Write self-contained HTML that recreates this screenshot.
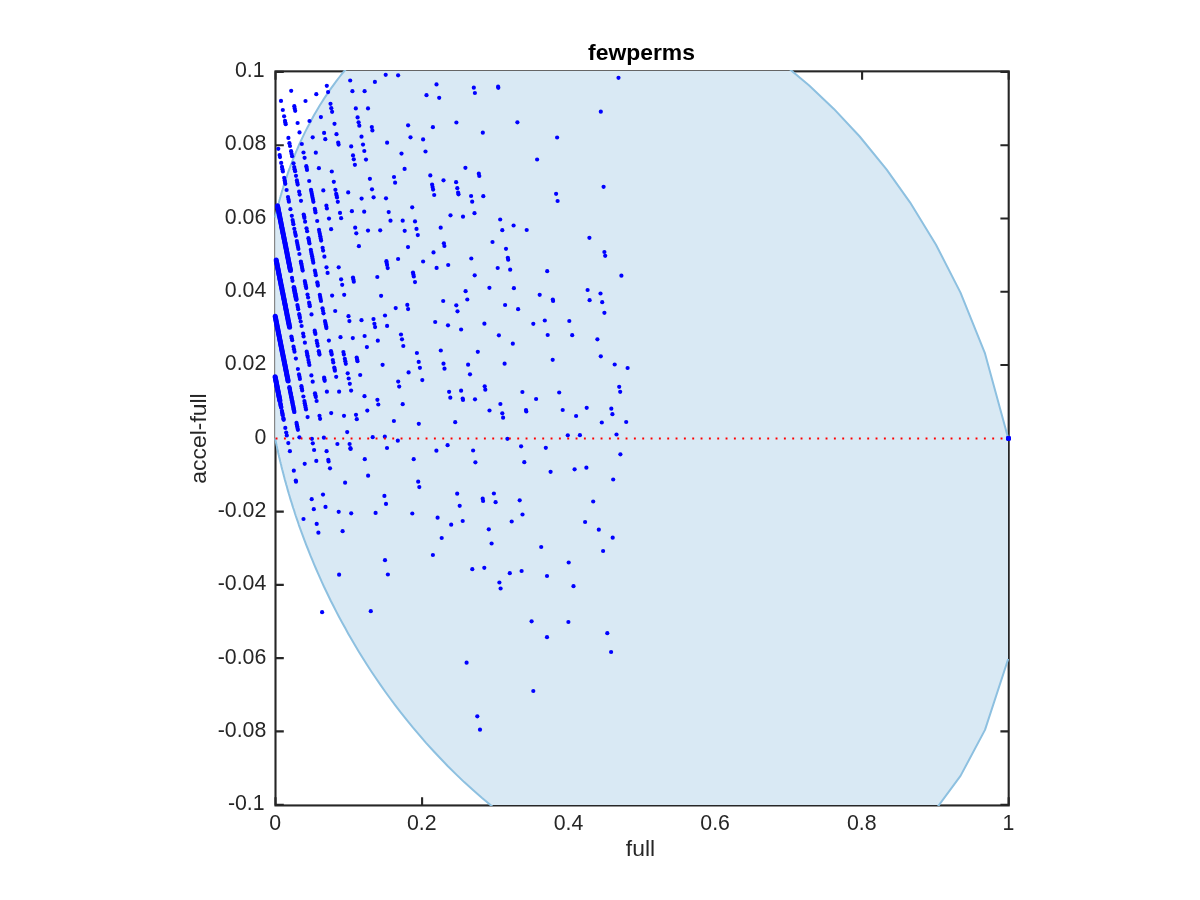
<!DOCTYPE html>
<html><head><meta charset="utf-8"><title>fewperms</title>
<style>
html,body{margin:0;padding:0;background:#fff;}
svg{display:block;font-family:"Liberation Sans",sans-serif;}
</style></head><body>
<svg width="1200" height="900" viewBox="0 0 1200 900">
<rect width="1200" height="900" fill="#fff"/>
<defs><clipPath id="c"><rect x="275" y="71" width="733" height="734"/></clipPath>
<clipPath id="c3"><rect x="274" y="70" width="735.5" height="736"/></clipPath>
<clipPath id="c2"><rect x="272" y="68" width="740" height="741"/></clipPath></defs>
<g fill="none" stroke="#262626" stroke-width="2.1" stroke-linecap="butt">
<rect x="275.5" y="71.35" width="733.2" height="734.1"/>
<path d="M275.5 805.45v-8.3M275.5 71.35v8.3"/><path d="M422.1 805.45v-8.3M422.1 71.35v8.3"/><path d="M568.8 805.45v-8.3M568.8 71.35v8.3"/><path d="M715.4 805.45v-8.3M715.4 71.35v8.3"/><path d="M862.1 805.45v-8.3M862.1 71.35v8.3"/><path d="M1008.7 805.45v-8.3M1008.7 71.35v8.3"/><path d="M275.5 804.7h8.3M1008.7 804.7h-8.3"/><path d="M275.5 731.4h8.3M1008.7 731.4h-8.3"/><path d="M275.5 658.1h8.3M1008.7 658.1h-8.3"/><path d="M275.5 584.9h8.3M1008.7 584.9h-8.3"/><path d="M275.5 511.6h8.3M1008.7 511.6h-8.3"/><path d="M275.5 438.3h8.3M1008.7 438.3h-8.3"/><path d="M275.5 365.0h8.3M1008.7 365.0h-8.3"/><path d="M275.5 291.7h8.3M1008.7 291.7h-8.3"/><path d="M275.5 218.5h8.3M1008.7 218.5h-8.3"/><path d="M275.5 145.2h8.3M1008.7 145.2h-8.3"/><path d="M275.5 71.9h8.3M1008.7 71.9h-8.3"/>
</g>
<g clip-path="url(#c)">
<polygon points="275.1,217.6 275.9,214.5 275.9,214.3 275.9,214.2 276.0,214.0 276.0,213.9 276.1,213.7 276.1,213.5 276.1,213.3 276.2,213.1 276.2,212.9 276.3,212.7 276.3,212.5 276.4,212.3 276.5,212.0 276.5,211.8 276.6,211.5 276.6,211.2 276.7,210.9 276.8,210.6 276.9,210.3 276.9,210.0 277.0,209.7 277.1,209.3 277.2,209.0 277.3,208.6 277.4,208.2 277.5,207.8 277.6,207.3 277.7,206.9 277.9,206.4 278.0,205.9 278.1,205.4 278.2,204.9 278.4,204.3 278.5,203.8 278.7,203.2 278.9,202.5 279.0,201.9 279.2,201.2 279.4,200.5 279.6,199.8 279.8,199.1 280.0,198.3 280.2,197.5 280.5,196.6 280.7,195.8 281.0,194.9 281.3,193.9 281.5,193.0 281.8,191.9 282.1,190.9 282.5,189.8 282.8,188.7 283.2,187.5 283.5,186.3 283.9,185.1 284.3,183.8 284.7,182.5 285.2,181.1 285.7,179.7 286.1,178.3 286.7,176.8 287.2,175.2 287.7,173.6 288.3,171.9 288.9,170.2 289.6,168.5 290.2,166.7 290.9,164.8 291.7,162.9 292.4,160.9 293.2,158.9 294.1,156.8 294.9,154.6 295.8,152.4 296.8,150.2 297.8,147.8 298.8,145.5 299.9,143.0 301.1,140.5 302.3,137.9 303.5,135.3 304.8,132.6 306.2,129.9 307.7,127.0 309.2,124.2 310.7,121.2 312.4,118.2 314.1,115.1 315.9,112.0 317.8,108.8 319.7,105.6 321.8,102.2 323.9,98.9 326.2,95.4 328.6,92.0 331.0,88.4 333.6,84.8 336.3,81.2 339.1,77.5 342.1,73.7 345.2,70.0 348.4,66.1 351.8,62.3 355.3,58.4 359.0,54.5 362.9,50.5 367.0,46.6 371.2,42.6 375.6,38.6 380.3,34.6 385.1,30.7 390.2,26.7 395.5,22.8 401.1,18.9 406.9,15.1 413.0,11.3 419.4,7.6 426.0,4.0 433.0,0.4 440.3,-3.0 447.9,-6.2 455.9,-9.3 464.2,-12.3 473.0,-15.0 482.1,-17.5 491.7,-19.7 501.7,-21.6 512.1,-23.2 523.1,-24.5 534.5,-25.3 546.5,-25.6 559.0,-25.5 572.1,-24.7 585.8,-23.3 600.2,-21.2 615.2,-18.3 630.9,-14.5 647.3,-9.7 664.5,-3.8 682.5,3.5 701.3,12.1 721.0,22.4 741.6,34.6 763.1,49.0 785.7,65.8 809.2,85.6 833.9,108.9 859.7,136.5 886.7,169.6 910.0,202.3 936.0,244.7 960.5,292.6 985.0,353.4 1008.2,438.3 1008.2,659.0 985.0,729.9 960.5,775.9 936.0,809.1 910.0,835.9 886.7,854.6 859.7,871.4 833.9,883.4 809.2,891.9 785.7,897.5 763.1,900.8 741.6,902.1 721.0,901.9 701.3,900.4 682.5,897.7 664.5,894.1 647.3,889.7 630.9,884.6 615.2,879.0 600.2,872.9 585.8,866.3 572.1,859.5 559.0,852.3 546.5,844.9 534.5,837.4 523.1,829.7 512.1,821.8 501.7,814.0 491.7,806.0 482.1,798.0 473.0,790.0 464.2,782.1 455.9,774.1 447.9,766.2 440.3,758.3 433.0,750.5 426.0,742.8 419.4,735.2 413.0,727.7 406.9,720.2 401.1,712.9 395.5,705.6 390.2,698.5 385.1,691.5 380.3,684.6 375.6,677.8 371.2,671.2 367.0,664.7 362.9,658.3 359.0,652.0 355.3,645.8 351.8,639.8 348.4,633.9 345.2,628.1 342.1,622.5 339.1,617.0 336.3,611.6 333.6,606.3 331.0,601.2 328.6,596.2 326.2,591.2 323.9,586.5 321.8,581.8 319.7,577.2 317.8,572.8 315.9,568.5 314.1,564.3 312.4,560.2 310.7,556.2 309.2,552.3 307.7,548.5 306.2,544.8 304.8,541.2 303.5,537.7 302.3,534.3 301.1,531.1 299.9,527.9 298.8,524.8 297.8,521.7 296.8,518.8 295.8,516.0 294.9,513.2 294.1,510.5 293.2,508.0 292.4,505.4 291.7,503.0 290.9,500.6 290.2,498.4 289.6,496.2 288.9,494.0 288.3,491.9 287.7,489.9 287.2,488.0 286.7,486.1 286.1,484.3 285.7,482.6 285.2,480.9 284.7,479.2 284.3,477.6 283.9,476.1 283.5,474.6 283.2,473.2 282.8,471.9 282.5,470.5 282.1,469.3 281.8,468.0 281.5,466.8 281.3,465.7 281.0,464.6 280.7,463.5 280.5,462.5 280.2,461.5 280.0,460.6 279.8,459.7 279.6,458.8 279.4,458.0 279.2,457.2 279.0,456.4 278.9,455.6 278.7,454.9 278.5,454.2 278.4,453.6 278.2,452.9 278.1,452.3 278.0,451.7 277.9,451.2 277.7,450.6 277.6,450.1 277.5,449.6 277.4,449.1 277.3,448.7 277.2,448.2 277.1,447.8 277.0,447.4 276.9,447.0 276.9,446.6 276.8,446.3 276.7,446.0 276.6,445.6 276.6,445.3 276.5,445.0 276.5,444.7 276.4,444.4 276.3,444.2 276.3,443.9 276.2,443.7 276.2,443.4 276.1,443.2 276.1,443.0 276.1,442.8 276.0,442.6 276.0,442.4 275.9,442.2 275.9,442.1 275.9,441.9 275.1,438.3" fill="#d9e9f4"/>
</g>
<g clip-path="url(#c3)">
<polyline points="275.1,217.6 275.9,214.5 275.9,214.3 275.9,214.2 276.0,214.0 276.0,213.9 276.1,213.7 276.1,213.5 276.1,213.3 276.2,213.1 276.2,212.9 276.3,212.7 276.3,212.5 276.4,212.3 276.5,212.0 276.5,211.8 276.6,211.5 276.6,211.2 276.7,210.9 276.8,210.6 276.9,210.3 276.9,210.0 277.0,209.7 277.1,209.3 277.2,209.0 277.3,208.6 277.4,208.2 277.5,207.8 277.6,207.3 277.7,206.9 277.9,206.4 278.0,205.9 278.1,205.4 278.2,204.9 278.4,204.3 278.5,203.8 278.7,203.2 278.9,202.5 279.0,201.9 279.2,201.2 279.4,200.5 279.6,199.8 279.8,199.1 280.0,198.3 280.2,197.5 280.5,196.6 280.7,195.8 281.0,194.9 281.3,193.9 281.5,193.0 281.8,191.9 282.1,190.9 282.5,189.8 282.8,188.7 283.2,187.5 283.5,186.3 283.9,185.1 284.3,183.8 284.7,182.5 285.2,181.1 285.7,179.7 286.1,178.3 286.7,176.8 287.2,175.2 287.7,173.6 288.3,171.9 288.9,170.2 289.6,168.5 290.2,166.7 290.9,164.8 291.7,162.9 292.4,160.9 293.2,158.9 294.1,156.8 294.9,154.6 295.8,152.4 296.8,150.2 297.8,147.8 298.8,145.5 299.9,143.0 301.1,140.5 302.3,137.9 303.5,135.3 304.8,132.6 306.2,129.9 307.7,127.0 309.2,124.2 310.7,121.2 312.4,118.2 314.1,115.1 315.9,112.0 317.8,108.8 319.7,105.6 321.8,102.2 323.9,98.9 326.2,95.4 328.6,92.0 331.0,88.4 333.6,84.8 336.3,81.2 339.1,77.5 342.1,73.7 345.2,70.0 348.4,66.1 351.8,62.3 355.3,58.4 359.0,54.5 362.9,50.5 367.0,46.6 371.2,42.6 375.6,38.6 380.3,34.6 385.1,30.7 390.2,26.7 395.5,22.8 401.1,18.9 406.9,15.1 413.0,11.3 419.4,7.6 426.0,4.0 433.0,0.4 440.3,-3.0 447.9,-6.2 455.9,-9.3 464.2,-12.3 473.0,-15.0 482.1,-17.5 491.7,-19.7 501.7,-21.6 512.1,-23.2 523.1,-24.5 534.5,-25.3 546.5,-25.6 559.0,-25.5 572.1,-24.7 585.8,-23.3 600.2,-21.2 615.2,-18.3 630.9,-14.5 647.3,-9.7 664.5,-3.8 682.5,3.5 701.3,12.1 721.0,22.4 741.6,34.6 763.1,49.0 785.7,65.8 809.2,85.6 833.9,108.9 859.7,136.5 886.7,169.6 910.0,202.3 936.0,244.7 960.5,292.6 985.0,353.4 1008.2,438.3" fill="none" stroke="#8dc0e0" stroke-width="2" stroke-linejoin="round"/>
<polyline points="275.1,438.3 275.9,441.9 275.9,442.1 275.9,442.2 276.0,442.4 276.0,442.6 276.1,442.8 276.1,443.0 276.1,443.2 276.2,443.4 276.2,443.7 276.3,443.9 276.3,444.2 276.4,444.4 276.5,444.7 276.5,445.0 276.6,445.3 276.6,445.6 276.7,446.0 276.8,446.3 276.9,446.6 276.9,447.0 277.0,447.4 277.1,447.8 277.2,448.2 277.3,448.7 277.4,449.1 277.5,449.6 277.6,450.1 277.7,450.6 277.9,451.2 278.0,451.7 278.1,452.3 278.2,452.9 278.4,453.6 278.5,454.2 278.7,454.9 278.9,455.6 279.0,456.4 279.2,457.2 279.4,458.0 279.6,458.8 279.8,459.7 280.0,460.6 280.2,461.5 280.5,462.5 280.7,463.5 281.0,464.6 281.3,465.7 281.5,466.8 281.8,468.0 282.1,469.3 282.5,470.5 282.8,471.9 283.2,473.2 283.5,474.6 283.9,476.1 284.3,477.6 284.7,479.2 285.2,480.9 285.7,482.6 286.1,484.3 286.7,486.1 287.2,488.0 287.7,489.9 288.3,491.9 288.9,494.0 289.6,496.2 290.2,498.4 290.9,500.6 291.7,503.0 292.4,505.4 293.2,508.0 294.1,510.5 294.9,513.2 295.8,516.0 296.8,518.8 297.8,521.7 298.8,524.8 299.9,527.9 301.1,531.1 302.3,534.3 303.5,537.7 304.8,541.2 306.2,544.8 307.7,548.5 309.2,552.3 310.7,556.2 312.4,560.2 314.1,564.3 315.9,568.5 317.8,572.8 319.7,577.2 321.8,581.8 323.9,586.5 326.2,591.2 328.6,596.2 331.0,601.2 333.6,606.3 336.3,611.6 339.1,617.0 342.1,622.5 345.2,628.1 348.4,633.9 351.8,639.8 355.3,645.8 359.0,652.0 362.9,658.3 367.0,664.7 371.2,671.2 375.6,677.8 380.3,684.6 385.1,691.5 390.2,698.5 395.5,705.6 401.1,712.9 406.9,720.2 413.0,727.7 419.4,735.2 426.0,742.8 433.0,750.5 440.3,758.3 447.9,766.2 455.9,774.1 464.2,782.1 473.0,790.0 482.1,798.0 491.7,806.0 501.7,814.0 512.1,821.8 523.1,829.7 534.5,837.4 546.5,844.9 559.0,852.3 572.1,859.5 585.8,866.3 600.2,872.9 615.2,879.0 630.9,884.6 647.3,889.7 664.5,894.1 682.5,897.7 701.3,900.4 721.0,901.9 741.6,902.1 763.1,900.8 785.7,897.5 809.2,891.9 833.9,883.4 859.7,871.4 886.7,854.6 910.0,835.9 936.0,809.1 960.5,775.9 985.0,729.9 1008.2,659.0" fill="none" stroke="#8dc0e0" stroke-width="2" stroke-linejoin="round"/>
</g>
<g clip-path="url(#c2)" fill="#0000ff">
<circle cx="618.5" cy="77.8" r="2.1"/><circle cx="473.8" cy="87.7" r="2.1"/><circle cx="474.9" cy="93.0" r="2.1"/><circle cx="498.1" cy="86.7" r="2.1"/><circle cx="498.3" cy="87.8" r="2.1"/><circle cx="600.8" cy="111.7" r="2.1"/><circle cx="456.4" cy="122.5" r="2.1"/><circle cx="517.4" cy="122.3" r="2.1"/><circle cx="482.8" cy="132.7" r="2.1"/><circle cx="557.1" cy="137.5" r="2.1"/><circle cx="537.1" cy="159.5" r="2.1"/><circle cx="465.4" cy="167.8" r="2.1"/><circle cx="478.8" cy="173.7" r="2.1"/><circle cx="479.3" cy="176.0" r="2.1"/><circle cx="443.5" cy="180.3" r="2.1"/><circle cx="456.1" cy="182.2" r="2.1"/><circle cx="457.3" cy="188.2" r="2.1"/><circle cx="458.1" cy="192.5" r="2.1"/><circle cx="458.5" cy="194.3" r="2.1"/><circle cx="471.1" cy="196.0" r="2.1"/><circle cx="483.3" cy="196.2" r="2.1"/><circle cx="472.2" cy="201.7" r="2.1"/><circle cx="556.1" cy="193.8" r="2.1"/><circle cx="557.6" cy="201.0" r="2.1"/><circle cx="603.6" cy="186.8" r="2.1"/><circle cx="474.5" cy="213.2" r="2.1"/><circle cx="450.5" cy="215.3" r="2.1"/><circle cx="463.0" cy="216.7" r="2.1"/><circle cx="500.2" cy="219.5" r="2.1"/><circle cx="513.6" cy="225.5" r="2.1"/><circle cx="440.7" cy="227.7" r="2.1"/><circle cx="502.3" cy="230.2" r="2.1"/><circle cx="526.7" cy="230.0" r="2.1"/><circle cx="589.4" cy="237.8" r="2.1"/><circle cx="492.5" cy="242.0" r="2.1"/><circle cx="443.9" cy="243.3" r="2.1"/><circle cx="444.4" cy="246.0" r="2.1"/><circle cx="506.0" cy="248.8" r="2.1"/><circle cx="604.4" cy="252.0" r="2.1"/><circle cx="605.2" cy="255.8" r="2.1"/><circle cx="471.3" cy="258.5" r="2.1"/><circle cx="507.8" cy="257.8" r="2.1"/><circle cx="508.2" cy="259.7" r="2.1"/><circle cx="448.2" cy="265.0" r="2.1"/><circle cx="497.7" cy="268.0" r="2.1"/><circle cx="510.2" cy="269.7" r="2.1"/><circle cx="547.2" cy="271.2" r="2.1"/><circle cx="474.7" cy="275.3" r="2.1"/><circle cx="621.4" cy="275.7" r="2.1"/><circle cx="489.4" cy="287.8" r="2.1"/><circle cx="513.9" cy="288.2" r="2.1"/><circle cx="465.6" cy="291.2" r="2.1"/><circle cx="587.6" cy="290.0" r="2.1"/><circle cx="600.5" cy="293.5" r="2.1"/><circle cx="539.7" cy="294.8" r="2.1"/><circle cx="467.3" cy="299.5" r="2.1"/><circle cx="552.8" cy="299.5" r="2.1"/><circle cx="553.1" cy="301.0" r="2.1"/><circle cx="443.2" cy="301.0" r="2.1"/><circle cx="589.6" cy="300.2" r="2.1"/><circle cx="602.2" cy="302.2" r="2.1"/><circle cx="456.3" cy="305.3" r="2.1"/><circle cx="505.1" cy="305.0" r="2.1"/><circle cx="518.1" cy="309.2" r="2.1"/><circle cx="457.5" cy="311.3" r="2.1"/><circle cx="604.4" cy="312.8" r="2.1"/><circle cx="544.8" cy="320.5" r="2.1"/><circle cx="569.3" cy="321.0" r="2.1"/><circle cx="448.0" cy="325.3" r="2.1"/><circle cx="484.4" cy="323.7" r="2.1"/><circle cx="533.3" cy="323.8" r="2.1"/><circle cx="461.1" cy="329.5" r="2.1"/><circle cx="498.9" cy="335.3" r="2.1"/><circle cx="547.7" cy="335.0" r="2.1"/><circle cx="572.2" cy="335.2" r="2.1"/><circle cx="597.4" cy="339.3" r="2.1"/><circle cx="512.8" cy="343.7" r="2.1"/><circle cx="440.8" cy="350.5" r="2.1"/><circle cx="477.8" cy="351.8" r="2.1"/><circle cx="600.8" cy="356.3" r="2.1"/><circle cx="552.7" cy="359.8" r="2.1"/><circle cx="443.5" cy="363.7" r="2.1"/><circle cx="468.1" cy="364.7" r="2.1"/><circle cx="504.6" cy="363.7" r="2.1"/><circle cx="614.7" cy="364.5" r="2.1"/><circle cx="444.5" cy="368.7" r="2.1"/><circle cx="627.6" cy="368.0" r="2.1"/><circle cx="470.0" cy="374.3" r="2.1"/><circle cx="484.7" cy="386.3" r="2.1"/><circle cx="485.3" cy="389.7" r="2.1"/><circle cx="619.2" cy="386.8" r="2.1"/><circle cx="620.2" cy="391.8" r="2.1"/><circle cx="449.1" cy="391.8" r="2.1"/><circle cx="461.1" cy="390.7" r="2.1"/><circle cx="522.4" cy="392.0" r="2.1"/><circle cx="559.2" cy="392.5" r="2.1"/><circle cx="450.3" cy="397.7" r="2.1"/><circle cx="462.7" cy="398.5" r="2.1"/><circle cx="463.0" cy="400.0" r="2.1"/><circle cx="475.0" cy="399.3" r="2.1"/><circle cx="536.1" cy="399.0" r="2.1"/><circle cx="500.4" cy="404.0" r="2.1"/><circle cx="586.7" cy="407.8" r="2.1"/><circle cx="611.3" cy="408.7" r="2.1"/><circle cx="489.5" cy="410.5" r="2.1"/><circle cx="526.0" cy="410.0" r="2.1"/><circle cx="526.3" cy="411.5" r="2.1"/><circle cx="562.7" cy="410.0" r="2.1"/><circle cx="502.3" cy="413.3" r="2.1"/><circle cx="612.4" cy="414.2" r="2.1"/><circle cx="576.1" cy="416.0" r="2.1"/><circle cx="503.1" cy="417.7" r="2.1"/><circle cx="455.2" cy="422.2" r="2.1"/><circle cx="601.8" cy="422.5" r="2.1"/><circle cx="626.2" cy="422.0" r="2.1"/><circle cx="567.8" cy="435.3" r="2.1"/><circle cx="579.9" cy="435.2" r="2.1"/><circle cx="616.5" cy="434.5" r="2.1"/><circle cx="507.4" cy="438.8" r="2.1"/><circle cx="447.6" cy="445.2" r="2.1"/><circle cx="521.1" cy="446.3" r="2.1"/><circle cx="545.8" cy="447.8" r="2.1"/><circle cx="473.1" cy="450.5" r="2.1"/><circle cx="620.4" cy="454.3" r="2.1"/><circle cx="475.4" cy="462.3" r="2.1"/><circle cx="524.3" cy="462.2" r="2.1"/><circle cx="586.4" cy="467.7" r="2.1"/><circle cx="574.6" cy="469.3" r="2.1"/><circle cx="550.6" cy="471.8" r="2.1"/><circle cx="613.2" cy="479.5" r="2.1"/><circle cx="457.2" cy="493.7" r="2.1"/><circle cx="493.9" cy="493.5" r="2.1"/><circle cx="482.7" cy="498.7" r="2.1"/><circle cx="483.1" cy="501.0" r="2.1"/><circle cx="495.6" cy="502.2" r="2.1"/><circle cx="519.7" cy="500.3" r="2.1"/><circle cx="593.2" cy="501.5" r="2.1"/><circle cx="459.7" cy="505.8" r="2.1"/><circle cx="522.5" cy="514.5" r="2.1"/><circle cx="462.7" cy="521.0" r="2.1"/><circle cx="511.7" cy="521.5" r="2.1"/><circle cx="585.1" cy="522.0" r="2.1"/><circle cx="451.2" cy="524.7" r="2.1"/><circle cx="488.8" cy="529.3" r="2.1"/><circle cx="598.8" cy="529.7" r="2.1"/><circle cx="441.7" cy="538.0" r="2.1"/><circle cx="612.7" cy="537.7" r="2.1"/><circle cx="491.6" cy="543.5" r="2.1"/><circle cx="541.2" cy="547.0" r="2.1"/><circle cx="603.1" cy="551.0" r="2.1"/><circle cx="568.7" cy="562.5" r="2.1"/><circle cx="484.3" cy="567.8" r="2.1"/><circle cx="472.3" cy="569.2" r="2.1"/><circle cx="521.6" cy="571.0" r="2.1"/><circle cx="509.8" cy="573.2" r="2.1"/><circle cx="547.0" cy="576.0" r="2.1"/><circle cx="499.4" cy="582.5" r="2.1"/><circle cx="500.6" cy="588.5" r="2.1"/><circle cx="573.5" cy="586.2" r="2.1"/><circle cx="531.6" cy="621.3" r="2.1"/><circle cx="568.4" cy="622.0" r="2.1"/><circle cx="607.3" cy="633.2" r="2.1"/><circle cx="547.0" cy="637.2" r="2.1"/><circle cx="611.1" cy="652.0" r="2.1"/><circle cx="466.6" cy="662.7" r="2.1"/><circle cx="533.3" cy="691.0" r="2.1"/><circle cx="477.3" cy="716.3" r="2.1"/><circle cx="480.0" cy="729.7" r="2.1"/><circle cx="322.1" cy="612.2" r="2.1"/><circle cx="370.8" cy="611.2" r="2.1"/><circle cx="350.2" cy="80.5" r="2.1"/><circle cx="326.8" cy="85.8" r="2.1"/><circle cx="291.2" cy="90.8" r="2.1"/><circle cx="328.1" cy="92.1" r="2.1"/><circle cx="352.4" cy="91.2" r="2.1"/><circle cx="364.6" cy="91.2" r="2.1"/><circle cx="316.3" cy="94.2" r="2.1"/><circle cx="281.0" cy="100.9" r="2.1"/><circle cx="305.5" cy="101.0" r="2.1"/><circle cx="330.5" cy="103.8" r="2.1"/><circle cx="294.3" cy="106.2" r="2.1"/><circle cx="294.7" cy="108.5" r="2.1"/><circle cx="295.2" cy="110.8" r="2.1"/><circle cx="355.8" cy="108.4" r="2.1"/><circle cx="368.0" cy="108.4" r="2.1"/><circle cx="331.3" cy="108.2" r="2.1"/><circle cx="282.8" cy="110.0" r="2.1"/><circle cx="332.1" cy="111.8" r="2.1"/><circle cx="284.1" cy="116.3" r="2.1"/><circle cx="320.9" cy="117.1" r="2.1"/><circle cx="357.6" cy="117.4" r="2.1"/><circle cx="309.5" cy="121.0" r="2.1"/><circle cx="285.0" cy="120.8" r="2.1"/><circle cx="285.3" cy="122.5" r="2.1"/><circle cx="285.7" cy="124.2" r="2.1"/><circle cx="297.6" cy="123.0" r="2.1"/><circle cx="358.6" cy="122.3" r="2.1"/><circle cx="334.5" cy="123.8" r="2.1"/><circle cx="359.3" cy="125.7" r="2.1"/><circle cx="299.5" cy="132.4" r="2.1"/><circle cx="324.1" cy="132.9" r="2.1"/><circle cx="336.5" cy="134.2" r="2.1"/><circle cx="361.5" cy="136.7" r="2.1"/><circle cx="312.7" cy="137.3" r="2.1"/><circle cx="288.4" cy="137.9" r="2.1"/><circle cx="325.3" cy="139.2" r="2.1"/><circle cx="278.3" cy="148.8" r="2.1"/><circle cx="279.6" cy="155.0" r="2.1"/><circle cx="280.0" cy="157.1" r="2.1"/><circle cx="281.2" cy="162.9" r="2.1"/><circle cx="282.0" cy="166.9" r="2.1"/><circle cx="282.4" cy="169.2" r="2.1"/><circle cx="282.9" cy="171.4" r="2.1"/><circle cx="284.2" cy="177.9" r="2.1"/><circle cx="284.7" cy="180.4" r="2.1"/><circle cx="285.0" cy="182.1" r="2.1"/><circle cx="285.3" cy="183.8" r="2.1"/><circle cx="286.6" cy="190.0" r="2.1"/><circle cx="288.0" cy="197.1" r="2.1"/><circle cx="288.5" cy="199.4" r="2.1"/><circle cx="288.9" cy="201.7" r="2.1"/><circle cx="290.4" cy="209.2" r="2.1"/><circle cx="289.4" cy="143.2" r="2.1"/><circle cx="290.0" cy="146.0" r="2.1"/><circle cx="291.1" cy="151.2" r="2.1"/><circle cx="291.6" cy="153.8" r="2.1"/><circle cx="292.1" cy="156.2" r="2.1"/><circle cx="293.5" cy="163.3" r="2.1"/><circle cx="294.2" cy="167.1" r="2.1"/><circle cx="294.6" cy="169.2" r="2.1"/><circle cx="295.1" cy="171.2" r="2.1"/><circle cx="296.0" cy="175.8" r="2.1"/><circle cx="296.9" cy="180.4" r="2.1"/><circle cx="297.3" cy="182.5" r="2.1"/><circle cx="297.7" cy="184.6" r="2.1"/><circle cx="299.1" cy="191.7" r="2.1"/><circle cx="299.7" cy="194.6" r="2.1"/><circle cx="301.0" cy="200.8" r="2.1"/><circle cx="301.8" cy="144.0" r="2.1"/><circle cx="303.5" cy="152.5" r="2.1"/><circle cx="304.6" cy="157.8" r="2.1"/><circle cx="306.3" cy="166.2" r="2.1"/><circle cx="306.7" cy="168.1" r="2.1"/><circle cx="307.0" cy="170.0" r="2.1"/><circle cx="309.2" cy="181.0" r="2.1"/><circle cx="311.0" cy="189.8" r="2.1"/><circle cx="311.4" cy="191.8" r="2.1"/><circle cx="311.8" cy="193.8" r="2.1"/><circle cx="312.2" cy="195.8" r="2.1"/><circle cx="312.6" cy="197.8" r="2.1"/><circle cx="313.0" cy="199.8" r="2.1"/><circle cx="313.4" cy="201.8" r="2.1"/><circle cx="314.8" cy="208.8" r="2.1"/><circle cx="315.2" cy="210.6" r="2.1"/><circle cx="315.5" cy="212.5" r="2.1"/><circle cx="315.8" cy="152.7" r="2.1"/><circle cx="318.9" cy="168.2" r="2.1"/><circle cx="323.3" cy="190.4" r="2.1"/><circle cx="326.4" cy="205.7" r="2.1"/><circle cx="326.9" cy="208.5" r="2.1"/><circle cx="331.8" cy="171.5" r="2.1"/><circle cx="333.8" cy="181.8" r="2.1"/><circle cx="335.4" cy="189.8" r="2.1"/><circle cx="336.2" cy="193.8" r="2.1"/><circle cx="336.6" cy="195.6" r="2.1"/><circle cx="337.0" cy="197.5" r="2.1"/><circle cx="337.8" cy="201.8" r="2.1"/><circle cx="340.0" cy="212.9" r="2.1"/><circle cx="338.2" cy="142.5" r="2.1"/><circle cx="338.6" cy="144.6" r="2.1"/><circle cx="348.2" cy="192.4" r="2.1"/><circle cx="351.9" cy="211.2" r="2.1"/><circle cx="351.2" cy="146.4" r="2.1"/><circle cx="353.0" cy="155.4" r="2.1"/><circle cx="353.8" cy="159.3" r="2.1"/><circle cx="354.9" cy="164.8" r="2.1"/><circle cx="361.6" cy="198.6" r="2.1"/><circle cx="364.2" cy="211.7" r="2.1"/><circle cx="363.0" cy="144.6" r="2.1"/><circle cx="364.3" cy="151.0" r="2.1"/><circle cx="366.0" cy="159.6" r="2.1"/><circle cx="369.9" cy="178.8" r="2.1"/><circle cx="291.8" cy="215.8" r="2.1"/><circle cx="292.6" cy="220.0" r="2.1"/><circle cx="293.0" cy="222.1" r="2.1"/><circle cx="293.4" cy="224.2" r="2.1"/><circle cx="294.3" cy="228.8" r="2.1"/><circle cx="295.0" cy="232.1" r="2.1"/><circle cx="295.4" cy="234.0" r="2.1"/><circle cx="295.8" cy="235.8" r="2.1"/><circle cx="296.8" cy="241.1" r="2.1"/><circle cx="297.2" cy="243.0" r="2.1"/><circle cx="297.6" cy="245.0" r="2.1"/><circle cx="298.0" cy="247.0" r="2.1"/><circle cx="298.4" cy="248.9" r="2.1"/><circle cx="299.4" cy="254.0" r="2.1"/><circle cx="300.9" cy="261.5" r="2.1"/><circle cx="301.2" cy="263.3" r="2.1"/><circle cx="301.6" cy="265.1" r="2.1"/><circle cx="302.0" cy="267.0" r="2.1"/><circle cx="302.3" cy="268.8" r="2.1"/><circle cx="302.7" cy="270.6" r="2.1"/><circle cx="304.8" cy="281.1" r="2.1"/><circle cx="305.2" cy="282.8" r="2.1"/><circle cx="305.5" cy="284.6" r="2.1"/><circle cx="305.9" cy="286.3" r="2.1"/><circle cx="306.2" cy="288.1" r="2.1"/><circle cx="303.7" cy="214.6" r="2.1"/><circle cx="304.1" cy="216.2" r="2.1"/><circle cx="304.4" cy="217.9" r="2.1"/><circle cx="305.1" cy="221.7" r="2.1"/><circle cx="306.5" cy="228.3" r="2.1"/><circle cx="307.1" cy="231.2" r="2.1"/><circle cx="308.4" cy="238.2" r="2.1"/><circle cx="308.8" cy="239.9" r="2.1"/><circle cx="309.1" cy="241.7" r="2.1"/><circle cx="309.5" cy="243.5" r="2.1"/><circle cx="310.8" cy="249.8" r="2.1"/><circle cx="311.2" cy="252.0" r="2.1"/><circle cx="311.6" cy="254.1" r="2.1"/><circle cx="312.1" cy="256.2" r="2.1"/><circle cx="312.5" cy="258.4" r="2.1"/><circle cx="312.9" cy="260.5" r="2.1"/><circle cx="313.3" cy="262.7" r="2.1"/><circle cx="314.9" cy="270.7" r="2.1"/><circle cx="315.4" cy="272.9" r="2.1"/><circle cx="315.8" cy="275.2" r="2.1"/><circle cx="317.3" cy="282.3" r="2.1"/><circle cx="317.6" cy="284.0" r="2.1"/><circle cx="317.9" cy="285.6" r="2.1"/><circle cx="317.2" cy="221.0" r="2.1"/><circle cx="319.0" cy="229.8" r="2.1"/><circle cx="319.4" cy="232.0" r="2.1"/><circle cx="319.9" cy="234.1" r="2.1"/><circle cx="320.3" cy="236.3" r="2.1"/><circle cx="320.7" cy="238.4" r="2.1"/><circle cx="321.1" cy="240.6" r="2.1"/><circle cx="322.6" cy="247.8" r="2.1"/><circle cx="323.1" cy="250.6" r="2.1"/><circle cx="324.4" cy="256.7" r="2.1"/><circle cx="326.5" cy="267.3" r="2.1"/><circle cx="327.6" cy="272.9" r="2.1"/><circle cx="329.0" cy="218.6" r="2.1"/><circle cx="331.1" cy="229.2" r="2.1"/><circle cx="338.7" cy="267.3" r="2.1"/><circle cx="341.1" cy="279.3" r="2.1"/><circle cx="342.2" cy="284.8" r="2.1"/><circle cx="341.1" cy="218.2" r="2.1"/><circle cx="353.0" cy="277.5" r="2.1"/><circle cx="353.4" cy="279.6" r="2.1"/><circle cx="353.8" cy="281.7" r="2.1"/><circle cx="355.2" cy="227.7" r="2.1"/><circle cx="356.3" cy="233.3" r="2.1"/><circle cx="358.9" cy="246.2" r="2.1"/><circle cx="368.0" cy="230.6" r="2.1"/><circle cx="292.0" cy="277.9" r="2.1"/><circle cx="292.5" cy="280.8" r="2.1"/><circle cx="291.4" cy="336.5" r="2.1"/><circle cx="291.8" cy="338.3" r="2.1"/><circle cx="292.2" cy="340.2" r="2.1"/><circle cx="293.5" cy="346.7" r="2.1"/><circle cx="294.0" cy="349.2" r="2.1"/><circle cx="294.5" cy="351.7" r="2.1"/><circle cx="295.9" cy="358.6" r="2.1"/><circle cx="297.4" cy="305.0" r="2.1"/><circle cx="297.8" cy="307.1" r="2.1"/><circle cx="298.2" cy="309.2" r="2.1"/><circle cx="299.2" cy="314.2" r="2.1"/><circle cx="299.6" cy="316.0" r="2.1"/><circle cx="299.9" cy="317.9" r="2.1"/><circle cx="300.7" cy="321.5" r="2.1"/><circle cx="301.6" cy="326.0" r="2.1"/><circle cx="303.1" cy="333.6" r="2.1"/><circle cx="303.6" cy="336.4" r="2.1"/><circle cx="304.9" cy="342.7" r="2.1"/><circle cx="306.7" cy="351.7" r="2.1"/><circle cx="307.1" cy="353.5" r="2.1"/><circle cx="307.4" cy="355.3" r="2.1"/><circle cx="307.8" cy="357.1" r="2.1"/><circle cx="308.4" cy="360.0" r="2.1"/><circle cx="308.9" cy="362.5" r="2.1"/><circle cx="309.4" cy="365.0" r="2.1"/><circle cx="307.5" cy="294.6" r="2.1"/><circle cx="308.1" cy="297.5" r="2.1"/><circle cx="309.1" cy="302.5" r="2.1"/><circle cx="309.5" cy="304.4" r="2.1"/><circle cx="309.8" cy="306.2" r="2.1"/><circle cx="311.5" cy="314.4" r="2.1"/><circle cx="314.7" cy="330.7" r="2.1"/><circle cx="315.0" cy="332.3" r="2.1"/><circle cx="315.4" cy="333.9" r="2.1"/><circle cx="316.7" cy="340.8" r="2.1"/><circle cx="317.2" cy="343.3" r="2.1"/><circle cx="317.7" cy="345.8" r="2.1"/><circle cx="318.8" cy="351.2" r="2.1"/><circle cx="319.2" cy="352.9" r="2.1"/><circle cx="319.5" cy="354.6" r="2.1"/><circle cx="319.8" cy="294.8" r="2.1"/><circle cx="320.2" cy="296.9" r="2.1"/><circle cx="320.6" cy="298.9" r="2.1"/><circle cx="321.0" cy="301.0" r="2.1"/><circle cx="322.5" cy="308.3" r="2.1"/><circle cx="323.0" cy="310.8" r="2.1"/><circle cx="323.5" cy="313.3" r="2.1"/><circle cx="325.0" cy="321.1" r="2.1"/><circle cx="325.4" cy="322.8" r="2.1"/><circle cx="325.7" cy="324.6" r="2.1"/><circle cx="326.1" cy="326.3" r="2.1"/><circle cx="326.4" cy="328.1" r="2.1"/><circle cx="328.9" cy="340.6" r="2.1"/><circle cx="331.0" cy="351.2" r="2.1"/><circle cx="331.4" cy="352.9" r="2.1"/><circle cx="331.7" cy="354.6" r="2.1"/><circle cx="332.8" cy="360.0" r="2.1"/><circle cx="333.3" cy="362.5" r="2.1"/><circle cx="332.1" cy="295.6" r="2.1"/><circle cx="335.2" cy="311.0" r="2.1"/><circle cx="340.5" cy="337.2" r="2.1"/><circle cx="343.4" cy="352.1" r="2.1"/><circle cx="343.9" cy="354.6" r="2.1"/><circle cx="344.8" cy="358.8" r="2.1"/><circle cx="345.3" cy="361.2" r="2.1"/><circle cx="345.8" cy="363.8" r="2.1"/><circle cx="344.2" cy="294.8" r="2.1"/><circle cx="348.5" cy="316.2" r="2.1"/><circle cx="349.4" cy="321.1" r="2.1"/><circle cx="352.8" cy="338.1" r="2.1"/><circle cx="356.7" cy="357.5" r="2.1"/><circle cx="357.1" cy="359.4" r="2.1"/><circle cx="357.5" cy="361.2" r="2.1"/><circle cx="361.5" cy="320.2" r="2.1"/><circle cx="364.6" cy="336.0" r="2.1"/><circle cx="366.9" cy="347.1" r="2.1"/><circle cx="285.3" cy="427.9" r="2.1"/><circle cx="286.2" cy="432.5" r="2.1"/><circle cx="286.8" cy="435.4" r="2.1"/><circle cx="296.5" cy="422.8" r="2.1"/><circle cx="296.8" cy="424.5" r="2.1"/><circle cx="297.2" cy="426.2" r="2.1"/><circle cx="297.5" cy="428.0" r="2.1"/><circle cx="297.9" cy="429.8" r="2.1"/><circle cx="299.4" cy="437.3" r="2.1"/><circle cx="297.9" cy="369.0" r="2.1"/><circle cx="299.0" cy="374.4" r="2.1"/><circle cx="299.5" cy="376.7" r="2.1"/><circle cx="299.9" cy="378.9" r="2.1"/><circle cx="301.4" cy="386.2" r="2.1"/><circle cx="301.8" cy="388.3" r="2.1"/><circle cx="302.2" cy="390.4" r="2.1"/><circle cx="303.4" cy="396.5" r="2.1"/><circle cx="304.4" cy="401.1" r="2.1"/><circle cx="304.8" cy="403.2" r="2.1"/><circle cx="305.2" cy="405.3" r="2.1"/><circle cx="305.6" cy="407.4" r="2.1"/><circle cx="306.0" cy="409.5" r="2.1"/><circle cx="307.6" cy="417.1" r="2.1"/><circle cx="311.9" cy="438.8" r="2.1"/><circle cx="311.4" cy="375.4" r="2.1"/><circle cx="312.7" cy="381.7" r="2.1"/><circle cx="315.0" cy="393.3" r="2.1"/><circle cx="315.4" cy="395.2" r="2.1"/><circle cx="315.8" cy="397.1" r="2.1"/><circle cx="316.6" cy="401.0" r="2.1"/><circle cx="319.5" cy="415.8" r="2.1"/><circle cx="320.1" cy="418.8" r="2.1"/><circle cx="323.9" cy="437.7" r="2.1"/><circle cx="324.1" cy="377.5" r="2.1"/><circle cx="324.4" cy="379.2" r="2.1"/><circle cx="324.7" cy="380.8" r="2.1"/><circle cx="326.9" cy="391.7" r="2.1"/><circle cx="331.2" cy="413.1" r="2.1"/><circle cx="334.3" cy="367.5" r="2.1"/><circle cx="334.6" cy="369.1" r="2.1"/><circle cx="334.9" cy="370.7" r="2.1"/><circle cx="336.2" cy="376.8" r="2.1"/><circle cx="339.1" cy="391.7" r="2.1"/><circle cx="344.0" cy="415.8" r="2.1"/><circle cx="347.2" cy="432.1" r="2.1"/><circle cx="347.7" cy="373.3" r="2.1"/><circle cx="348.7" cy="378.5" r="2.1"/><circle cx="349.8" cy="383.8" r="2.1"/><circle cx="351.1" cy="390.6" r="2.1"/><circle cx="356.0" cy="414.8" r="2.1"/><circle cx="356.8" cy="419.2" r="2.1"/><circle cx="360.2" cy="375.0" r="2.1"/><circle cx="364.5" cy="396.2" r="2.1"/><circle cx="367.3" cy="410.6" r="2.1"/><circle cx="288.3" cy="443.1" r="2.1"/><circle cx="312.8" cy="443.3" r="2.1"/><circle cx="337.4" cy="444.0" r="2.1"/><circle cx="349.6" cy="444.0" r="2.1"/><circle cx="350.4" cy="448.2" r="2.1"/><circle cx="350.6" cy="449.0" r="2.1"/><circle cx="289.9" cy="451.2" r="2.1"/><circle cx="314.1" cy="450.0" r="2.1"/><circle cx="326.6" cy="451.2" r="2.1"/><circle cx="364.8" cy="459.2" r="2.1"/><circle cx="316.3" cy="460.9" r="2.1"/><circle cx="328.3" cy="459.8" r="2.1"/><circle cx="328.6" cy="461.5" r="2.1"/><circle cx="304.7" cy="463.8" r="2.1"/><circle cx="330.0" cy="468.3" r="2.1"/><circle cx="293.8" cy="470.7" r="2.1"/><circle cx="368.1" cy="475.7" r="2.1"/><circle cx="295.8" cy="480.6" r="2.1"/><circle cx="296.0" cy="481.7" r="2.1"/><circle cx="345.1" cy="482.7" r="2.1"/><circle cx="323.0" cy="494.6" r="2.1"/><circle cx="311.7" cy="499.2" r="2.1"/><circle cx="325.5" cy="506.9" r="2.1"/><circle cx="313.8" cy="509.2" r="2.1"/><circle cx="338.7" cy="511.8" r="2.1"/><circle cx="351.2" cy="513.3" r="2.1"/><circle cx="303.5" cy="519.0" r="2.1"/><circle cx="316.7" cy="523.9" r="2.1"/><circle cx="318.4" cy="532.7" r="2.1"/><circle cx="342.6" cy="531.2" r="2.1"/><circle cx="339.1" cy="574.7" r="2.1"/><circle cx="385.7" cy="74.8" r="2.1"/><circle cx="398.1" cy="75.3" r="2.1"/><circle cx="374.9" cy="81.9" r="2.1"/><circle cx="436.5" cy="84.4" r="2.1"/><circle cx="426.5" cy="95.2" r="2.1"/><circle cx="439.2" cy="97.8" r="2.1"/><circle cx="371.8" cy="127.1" r="2.1"/><circle cx="372.4" cy="130.4" r="2.1"/><circle cx="408.1" cy="125.3" r="2.1"/><circle cx="432.9" cy="127.2" r="2.1"/><circle cx="410.5" cy="137.3" r="2.1"/><circle cx="423.1" cy="139.4" r="2.1"/><circle cx="387.1" cy="142.7" r="2.1"/><circle cx="401.5" cy="153.6" r="2.1"/><circle cx="425.5" cy="151.5" r="2.1"/><circle cx="404.6" cy="168.9" r="2.1"/><circle cx="430.3" cy="175.4" r="2.1"/><circle cx="394.0" cy="177.0" r="2.1"/><circle cx="395.1" cy="182.7" r="2.1"/><circle cx="432.1" cy="184.6" r="2.1"/><circle cx="432.6" cy="187.1" r="2.1"/><circle cx="433.1" cy="189.6" r="2.1"/><circle cx="372.0" cy="189.3" r="2.1"/><circle cx="373.6" cy="197.3" r="2.1"/><circle cx="386.0" cy="198.3" r="2.1"/><circle cx="434.2" cy="195.0" r="2.1"/><circle cx="412.2" cy="207.3" r="2.1"/><circle cx="388.7" cy="212.1" r="2.1"/><circle cx="390.5" cy="220.7" r="2.1"/><circle cx="402.7" cy="220.7" r="2.1"/><circle cx="415.0" cy="221.4" r="2.1"/><circle cx="380.2" cy="230.3" r="2.1"/><circle cx="404.7" cy="230.8" r="2.1"/><circle cx="416.5" cy="228.9" r="2.1"/><circle cx="417.8" cy="235.1" r="2.1"/><circle cx="408.0" cy="247.1" r="2.1"/><circle cx="433.5" cy="252.4" r="2.1"/><circle cx="398.1" cy="259.0" r="2.1"/><circle cx="423.1" cy="261.5" r="2.1"/><circle cx="386.4" cy="261.2" r="2.1"/><circle cx="386.7" cy="263.1" r="2.1"/><circle cx="387.1" cy="265.0" r="2.1"/><circle cx="387.7" cy="268.1" r="2.1"/><circle cx="436.6" cy="267.9" r="2.1"/><circle cx="377.3" cy="277.0" r="2.1"/><circle cx="413.0" cy="272.5" r="2.1"/><circle cx="413.4" cy="274.5" r="2.1"/><circle cx="413.8" cy="276.5" r="2.1"/><circle cx="415.0" cy="282.1" r="2.1"/><circle cx="381.1" cy="295.8" r="2.1"/><circle cx="407.3" cy="304.9" r="2.1"/><circle cx="408.1" cy="309.1" r="2.1"/><circle cx="395.7" cy="308.1" r="2.1"/><circle cx="385.0" cy="315.5" r="2.1"/><circle cx="373.5" cy="319.1" r="2.1"/><circle cx="374.4" cy="323.8" r="2.1"/><circle cx="375.1" cy="327.1" r="2.1"/><circle cx="387.1" cy="325.9" r="2.1"/><circle cx="435.2" cy="322.0" r="2.1"/><circle cx="401.0" cy="334.5" r="2.1"/><circle cx="402.0" cy="339.3" r="2.1"/><circle cx="403.3" cy="346.0" r="2.1"/><circle cx="377.8" cy="340.7" r="2.1"/><circle cx="416.9" cy="353.0" r="2.1"/><circle cx="418.7" cy="361.9" r="2.1"/><circle cx="382.6" cy="364.8" r="2.1"/><circle cx="419.9" cy="367.8" r="2.1"/><circle cx="408.6" cy="372.4" r="2.1"/><circle cx="398.2" cy="381.6" r="2.1"/><circle cx="399.2" cy="386.6" r="2.1"/><circle cx="422.3" cy="380.1" r="2.1"/><circle cx="377.4" cy="399.8" r="2.1"/><circle cx="378.3" cy="404.5" r="2.1"/><circle cx="402.7" cy="404.2" r="2.1"/><circle cx="393.9" cy="421.0" r="2.1"/><circle cx="418.8" cy="423.8" r="2.1"/><circle cx="372.7" cy="437.2" r="2.1"/><circle cx="384.8" cy="436.7" r="2.1"/><circle cx="397.8" cy="440.7" r="2.1"/><circle cx="387.0" cy="448.0" r="2.1"/><circle cx="436.4" cy="450.7" r="2.1"/><circle cx="413.7" cy="459.2" r="2.1"/><circle cx="418.2" cy="481.7" r="2.1"/><circle cx="419.3" cy="487.1" r="2.1"/><circle cx="384.4" cy="495.9" r="2.1"/><circle cx="386.0" cy="503.9" r="2.1"/><circle cx="375.6" cy="512.9" r="2.1"/><circle cx="412.3" cy="513.5" r="2.1"/><circle cx="437.6" cy="517.7" r="2.1"/><circle cx="432.9" cy="555.0" r="2.1"/><circle cx="385.0" cy="560.2" r="2.1"/><circle cx="387.9" cy="574.5" r="2.1"/><circle cx="277.5" cy="205.7" r="2.5"/><circle cx="277.8" cy="206.9" r="2.5"/><circle cx="278.0" cy="208.1" r="2.5"/><circle cx="278.2" cy="209.3" r="2.5"/><circle cx="278.5" cy="210.5" r="2.5"/><circle cx="278.7" cy="211.7" r="2.5"/><circle cx="279.0" cy="212.9" r="2.5"/><circle cx="279.2" cy="214.1" r="2.5"/><circle cx="279.4" cy="215.3" r="2.5"/><circle cx="279.7" cy="216.5" r="2.5"/><circle cx="279.9" cy="217.7" r="2.5"/><circle cx="280.2" cy="218.9" r="2.5"/><circle cx="280.4" cy="220.1" r="2.5"/><circle cx="280.6" cy="221.3" r="2.5"/><circle cx="280.9" cy="222.5" r="2.5"/><circle cx="281.1" cy="223.7" r="2.5"/><circle cx="281.4" cy="224.9" r="2.5"/><circle cx="281.6" cy="226.1" r="2.5"/><circle cx="281.8" cy="227.3" r="2.5"/><circle cx="282.1" cy="228.5" r="2.5"/><circle cx="282.3" cy="229.7" r="2.5"/><circle cx="282.6" cy="230.9" r="2.5"/><circle cx="282.8" cy="232.1" r="2.5"/><circle cx="283.0" cy="233.3" r="2.5"/><circle cx="283.3" cy="234.5" r="2.5"/><circle cx="283.5" cy="235.7" r="2.5"/><circle cx="283.8" cy="236.9" r="2.5"/><circle cx="284.0" cy="238.1" r="2.5"/><circle cx="284.2" cy="239.3" r="2.5"/><circle cx="284.5" cy="240.5" r="2.5"/><circle cx="284.7" cy="241.7" r="2.5"/><circle cx="285.0" cy="242.9" r="2.5"/><circle cx="285.2" cy="244.1" r="2.5"/><circle cx="285.4" cy="245.3" r="2.5"/><circle cx="285.7" cy="246.5" r="2.5"/><circle cx="285.9" cy="247.7" r="2.5"/><circle cx="286.2" cy="248.9" r="2.5"/><circle cx="286.4" cy="250.1" r="2.5"/><circle cx="286.6" cy="251.3" r="2.5"/><circle cx="286.9" cy="252.5" r="2.5"/><circle cx="287.1" cy="253.7" r="2.5"/><circle cx="287.3" cy="254.9" r="2.5"/><circle cx="287.6" cy="256.1" r="2.5"/><circle cx="287.8" cy="257.3" r="2.5"/><circle cx="288.1" cy="258.5" r="2.5"/><circle cx="288.3" cy="259.7" r="2.5"/><circle cx="288.5" cy="260.9" r="2.5"/><circle cx="288.8" cy="262.1" r="2.5"/><circle cx="289.0" cy="263.3" r="2.5"/><circle cx="289.3" cy="264.5" r="2.5"/><circle cx="289.5" cy="265.7" r="2.5"/><circle cx="289.7" cy="266.9" r="2.5"/><circle cx="290.0" cy="268.1" r="2.5"/><circle cx="290.2" cy="269.3" r="2.5"/><circle cx="290.5" cy="270.5" r="2.5"/><circle cx="293.9" cy="287.5" r="2.4"/><circle cx="294.2" cy="289.0" r="2.4"/><circle cx="294.5" cy="290.5" r="2.4"/><circle cx="294.8" cy="292.0" r="2.4"/><circle cx="295.1" cy="293.5" r="2.4"/><circle cx="295.4" cy="295.0" r="2.4"/><circle cx="295.7" cy="296.5" r="2.4"/><circle cx="296.0" cy="298.0" r="2.4"/><circle cx="296.3" cy="299.5" r="2.4"/><circle cx="276.2" cy="260.0" r="2.5"/><circle cx="276.4" cy="261.2" r="2.5"/><circle cx="276.6" cy="262.4" r="2.5"/><circle cx="276.9" cy="263.6" r="2.5"/><circle cx="277.1" cy="264.8" r="2.5"/><circle cx="277.4" cy="266.0" r="2.5"/><circle cx="277.6" cy="267.2" r="2.5"/><circle cx="277.8" cy="268.4" r="2.5"/><circle cx="278.1" cy="269.6" r="2.5"/><circle cx="278.3" cy="270.8" r="2.5"/><circle cx="278.6" cy="272.0" r="2.5"/><circle cx="278.8" cy="273.2" r="2.5"/><circle cx="279.0" cy="274.4" r="2.5"/><circle cx="279.3" cy="275.6" r="2.5"/><circle cx="279.5" cy="276.8" r="2.5"/><circle cx="279.7" cy="278.0" r="2.5"/><circle cx="280.0" cy="279.2" r="2.5"/><circle cx="280.2" cy="280.4" r="2.5"/><circle cx="280.5" cy="281.6" r="2.5"/><circle cx="280.7" cy="282.8" r="2.5"/><circle cx="280.9" cy="284.0" r="2.5"/><circle cx="281.2" cy="285.2" r="2.5"/><circle cx="281.4" cy="286.4" r="2.5"/><circle cx="281.7" cy="287.6" r="2.5"/><circle cx="281.9" cy="288.8" r="2.5"/><circle cx="282.1" cy="290.0" r="2.5"/><circle cx="282.4" cy="291.2" r="2.5"/><circle cx="282.6" cy="292.4" r="2.5"/><circle cx="282.9" cy="293.6" r="2.5"/><circle cx="283.1" cy="294.8" r="2.5"/><circle cx="283.3" cy="296.0" r="2.5"/><circle cx="283.6" cy="297.2" r="2.5"/><circle cx="283.8" cy="298.4" r="2.5"/><circle cx="284.1" cy="299.6" r="2.5"/><circle cx="284.3" cy="300.8" r="2.5"/><circle cx="284.5" cy="302.0" r="2.5"/><circle cx="284.8" cy="303.2" r="2.5"/><circle cx="285.0" cy="304.4" r="2.5"/><circle cx="285.3" cy="305.6" r="2.5"/><circle cx="285.5" cy="306.8" r="2.5"/><circle cx="285.7" cy="308.0" r="2.5"/><circle cx="286.0" cy="309.2" r="2.5"/><circle cx="286.2" cy="310.4" r="2.5"/><circle cx="286.5" cy="311.6" r="2.5"/><circle cx="286.7" cy="312.8" r="2.5"/><circle cx="286.9" cy="314.0" r="2.5"/><circle cx="287.2" cy="315.2" r="2.5"/><circle cx="287.4" cy="316.4" r="2.5"/><circle cx="287.7" cy="317.6" r="2.5"/><circle cx="287.9" cy="318.8" r="2.5"/><circle cx="288.1" cy="320.0" r="2.5"/><circle cx="288.4" cy="321.2" r="2.5"/><circle cx="288.6" cy="322.4" r="2.5"/><circle cx="288.9" cy="323.6" r="2.5"/><circle cx="289.1" cy="324.8" r="2.5"/><circle cx="289.3" cy="326.0" r="2.5"/><circle cx="289.6" cy="327.2" r="2.5"/><circle cx="275.2" cy="316.3" r="2.5"/><circle cx="275.4" cy="317.5" r="2.5"/><circle cx="275.7" cy="318.7" r="2.5"/><circle cx="275.9" cy="319.9" r="2.5"/><circle cx="276.1" cy="321.1" r="2.5"/><circle cx="276.4" cy="322.3" r="2.5"/><circle cx="276.6" cy="323.5" r="2.5"/><circle cx="276.9" cy="324.7" r="2.5"/><circle cx="277.1" cy="325.9" r="2.5"/><circle cx="277.3" cy="327.1" r="2.5"/><circle cx="277.6" cy="328.3" r="2.5"/><circle cx="277.8" cy="329.5" r="2.5"/><circle cx="278.1" cy="330.7" r="2.5"/><circle cx="278.3" cy="331.9" r="2.5"/><circle cx="278.5" cy="333.1" r="2.5"/><circle cx="278.8" cy="334.3" r="2.5"/><circle cx="279.0" cy="335.5" r="2.5"/><circle cx="279.3" cy="336.7" r="2.5"/><circle cx="279.5" cy="337.9" r="2.5"/><circle cx="279.7" cy="339.1" r="2.5"/><circle cx="280.0" cy="340.3" r="2.5"/><circle cx="280.2" cy="341.5" r="2.5"/><circle cx="280.5" cy="342.7" r="2.5"/><circle cx="280.7" cy="343.9" r="2.5"/><circle cx="280.9" cy="345.1" r="2.5"/><circle cx="281.2" cy="346.3" r="2.5"/><circle cx="281.4" cy="347.5" r="2.5"/><circle cx="281.7" cy="348.7" r="2.5"/><circle cx="281.9" cy="349.9" r="2.5"/><circle cx="282.1" cy="351.1" r="2.5"/><circle cx="282.4" cy="352.3" r="2.5"/><circle cx="282.6" cy="353.5" r="2.5"/><circle cx="282.9" cy="354.7" r="2.5"/><circle cx="283.1" cy="355.9" r="2.5"/><circle cx="283.3" cy="357.1" r="2.5"/><circle cx="283.6" cy="358.3" r="2.5"/><circle cx="283.8" cy="359.5" r="2.5"/><circle cx="284.1" cy="360.7" r="2.5"/><circle cx="284.3" cy="361.9" r="2.5"/><circle cx="284.5" cy="363.1" r="2.5"/><circle cx="284.8" cy="364.3" r="2.5"/><circle cx="285.0" cy="365.5" r="2.5"/><circle cx="285.3" cy="366.7" r="2.5"/><circle cx="285.5" cy="367.9" r="2.5"/><circle cx="285.7" cy="369.1" r="2.5"/><circle cx="286.0" cy="370.3" r="2.5"/><circle cx="286.2" cy="371.5" r="2.5"/><circle cx="286.5" cy="372.7" r="2.5"/><circle cx="286.7" cy="373.9" r="2.5"/><circle cx="286.9" cy="375.1" r="2.5"/><circle cx="287.2" cy="376.3" r="2.5"/><circle cx="287.4" cy="377.5" r="2.5"/><circle cx="287.7" cy="378.7" r="2.5"/><circle cx="287.9" cy="379.9" r="2.5"/><circle cx="288.1" cy="381.1" r="2.5"/><circle cx="289.4" cy="387.2" r="2.2"/><circle cx="289.6" cy="388.5" r="2.2"/><circle cx="289.9" cy="389.8" r="2.2"/><circle cx="290.1" cy="391.1" r="2.2"/><circle cx="290.4" cy="392.4" r="2.2"/><circle cx="290.7" cy="393.7" r="2.2"/><circle cx="290.9" cy="395.0" r="2.2"/><circle cx="291.2" cy="396.3" r="2.2"/><circle cx="291.4" cy="397.6" r="2.2"/><circle cx="291.7" cy="398.9" r="2.2"/><circle cx="292.0" cy="400.2" r="2.2"/><circle cx="292.2" cy="401.5" r="2.2"/><circle cx="292.5" cy="402.8" r="2.2"/><circle cx="292.7" cy="404.1" r="2.2"/><circle cx="293.0" cy="405.4" r="2.2"/><circle cx="293.3" cy="406.7" r="2.2"/><circle cx="293.5" cy="408.0" r="2.2"/><circle cx="293.8" cy="409.3" r="2.2"/><circle cx="294.0" cy="410.6" r="2.2"/><circle cx="294.3" cy="411.9" r="2.2"/><circle cx="275.1" cy="376.8" r="2.5"/><circle cx="275.3" cy="377.8" r="2.5"/><circle cx="275.5" cy="378.8" r="2.5"/><circle cx="275.7" cy="379.8" r="2.5"/><circle cx="275.9" cy="380.8" r="2.5"/><circle cx="276.1" cy="381.8" r="2.5"/><circle cx="276.3" cy="382.8" r="2.5"/><circle cx="276.5" cy="383.8" r="2.5"/><circle cx="276.7" cy="384.8" r="2.5"/><circle cx="276.9" cy="385.8" r="2.5"/><circle cx="277.1" cy="386.8" r="2.5"/><circle cx="277.3" cy="387.8" r="2.5"/><circle cx="277.5" cy="388.8" r="2.5"/><circle cx="277.7" cy="389.8" r="2.5"/><circle cx="277.9" cy="390.8" r="2.5"/><circle cx="278.1" cy="391.8" r="2.5"/><circle cx="278.3" cy="392.8" r="2.5"/><circle cx="278.5" cy="393.8" r="2.5"/><circle cx="278.7" cy="394.8" r="2.5"/><circle cx="278.9" cy="395.8" r="2.5"/><circle cx="279.1" cy="396.8" r="2.5"/><circle cx="279.3" cy="397.8" r="2.5"/><circle cx="279.5" cy="398.8" r="2.5"/><circle cx="279.7" cy="399.8" r="2.5"/><circle cx="279.9" cy="400.8" r="2.5"/><circle cx="280.4" cy="403.5" r="2.2"/><circle cx="280.6" cy="404.5" r="2.2"/><circle cx="280.8" cy="405.5" r="2.2"/><circle cx="281.0" cy="406.5" r="2.2"/><circle cx="281.2" cy="407.5" r="2.2"/><circle cx="281.9" cy="410.8" r="2.1"/><circle cx="282.1" cy="411.9" r="2.1"/><circle cx="282.3" cy="413.0" r="2.1"/><circle cx="282.5" cy="414.1" r="2.1"/><circle cx="282.7" cy="415.2" r="2.1"/><circle cx="283.3" cy="418.0" r="2.1"/><circle cx="283.5" cy="418.9" r="2.1"/><circle cx="283.7" cy="419.8" r="2.1"/>
<rect x="1006" y="435.9" width="5" height="5" rx="1.4"/>
</g>
<path d="M275.6 438.4H1005" stroke="#ff0000" stroke-width="2" stroke-dasharray="1.9 6.433" fill="none"/>
<g fill="#262626" font-size="21.3px">
<text x="275.2" y="830.1" text-anchor="middle">0</text><text x="421.8" y="830.1" text-anchor="middle">0.2</text><text x="568.5" y="830.1" text-anchor="middle">0.4</text><text x="715.1" y="830.1" text-anchor="middle">0.6</text><text x="861.8" y="830.1" text-anchor="middle">0.8</text><text x="1008.4" y="830.1" text-anchor="middle">1</text>
<text x="264.6" y="810.1" text-anchor="end">-0.1</text><text x="266.3" y="736.8" text-anchor="end">-0.08</text><text x="266.3" y="663.5" text-anchor="end">-0.06</text><text x="266.3" y="590.2" text-anchor="end">-0.04</text><text x="266.3" y="516.9" text-anchor="end">-0.02</text><text x="266.3" y="443.6" text-anchor="end">0</text><text x="266.3" y="370.3" text-anchor="end">0.02</text><text x="266.3" y="297.0" text-anchor="end">0.04</text><text x="266.3" y="223.7" text-anchor="end">0.06</text><text x="266.3" y="150.4" text-anchor="end">0.08</text><text x="264.6" y="77.1" text-anchor="end">0.1</text>
</g>
<text x="640.5" y="856.3" text-anchor="middle" font-size="22.9px" fill="#262626">full</text>
<text transform="translate(206.2,438.5) rotate(-90)" text-anchor="middle" font-size="22.9px" fill="#262626">accel-full</text>
<text x="641.5" y="60" text-anchor="middle" font-size="22.9px" font-weight="bold" fill="#000">fewperms</text>
</svg>
</body></html>
